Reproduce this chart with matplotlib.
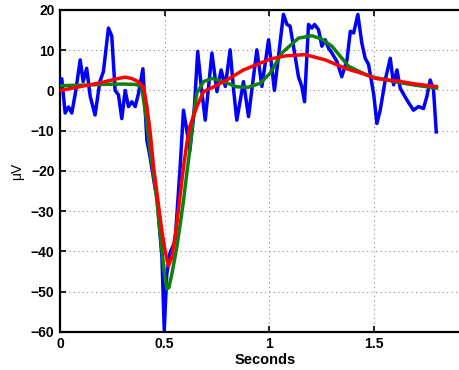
import matplotlib.pyplot as plt
import numpy as np

# raw signal (blue)
t_raw = [0.0, 0.008, 0.024, 0.04, 0.056, 0.075, 0.096, 0.11, 0.127, 0.144, 0.167, 0.19,
         0.207, 0.231, 0.247, 0.263, 0.279, 0.295, 0.311, 0.327, 0.343, 0.359, 0.375,
         0.396, 0.415, 0.43, 0.455, 0.463, 0.487, 0.498, 0.51, 0.526, 0.55, 0.574, 0.59,
         0.606, 0.62, 0.64, 0.658, 0.675, 0.694, 0.726, 0.75, 0.77, 0.79, 0.813, 0.83,
         0.845, 0.877, 0.901, 0.941, 0.965, 0.997, 1.025, 1.068, 1.085, 1.1, 1.124, 1.14,
         1.156, 1.169, 1.188, 1.204, 1.217, 1.236, 1.252, 1.268, 1.284, 1.3, 1.324, 1.347,
         1.372, 1.388, 1.404, 1.424, 1.443, 1.459, 1.475, 1.5, 1.515, 1.531, 1.555, 1.579,
         1.595, 1.611, 1.627, 1.659, 1.69, 1.714, 1.738, 1.754, 1.77, 1.786, 1.799]
v_raw = [2.5, 2.9, -5.6, -4.1, -5.6, 0.0, 7.6, 2.2, 5.5, -1.5, -6.1, 2.2,
         4.7, 15.5, 13.5, 0.0, -1.1, -7.0, 0.0, -4.0, -2.8, -4.0, -0.7,
         5.4, -12.4, -16.5, -24.5, -26.5, -41.5, -59.5, -45.7, -40.3, -37.4, -19.0, -4.9,
         -10.0, -15.0, -6.0, 9.7, 1.0, -7.4, 9.3, -0.3, 5.1, 1.0, 10.1, 0.0,
         -7.4, 2.2, -6.5, 10.1, 1.0, 12.6, 0.0, 18.9, 16.4, 16.0, 8.5, 3.4,
         1.0, -2.8, 16.4, 15.5, 16.4, 15.1, 11.0, 12.6, 10.5, 9.3, 7.2, 3.4,
         7.6, 14.7, 14.3, 18.9, 11.8, 8.0, 6.5, -1.0, -8.2, -4.9, 2.6, 8.0,
         1.4, 5.1, 0.5, -2.4, -4.9, -4.0, -4.5, -1.5, 2.6, 0.1, -10.3]

# smoothed fit (green)
t_fit1 = [0.0, 0.1, 0.2, 0.3, 0.36, 0.39, 0.399, 0.415, 0.43, 0.447, 0.463, 0.475, 0.487,
          0.5, 0.51, 0.52, 0.534, 0.558, 0.575, 0.59, 0.605, 0.62, 0.635, 0.654, 0.686,
          0.726, 0.782, 0.845, 0.9, 0.957, 0.98, 1.005, 1.06, 1.14, 1.204, 1.25, 1.3,
          1.38, 1.459, 1.507, 1.62, 1.7, 1.8]
v_fit1 = [1.2, 1.3, 1.5, 1.6, 1.5, 1.0, -2.4, -8.0, -14.9, -21.0, -27.4, -34.0, -39.9,
          -46.0, -49.3, -49.0, -45.7, -39.0, -33.0, -27.4, -21.0, -14.9, -7.0, -0.7, 2.2,
          3.0, 2.2, 0.9, 0.8, 1.8, 3.0, 4.3, 9.3, 13.0, 13.6, 12.8, 11.0,
          6.0, 4.0, 3.2, 2.0, 1.3, 0.6]

# smoother fit (red)
t_fit2 = [0.0, 0.1, 0.2, 0.28, 0.311, 0.34, 0.37, 0.399, 0.415, 0.43, 0.447, 0.463, 0.478,
          0.49, 0.502, 0.518, 0.534, 0.546, 0.558, 0.574, 0.59, 0.605, 0.62, 0.654, 0.686,
          0.734, 0.797, 0.877, 0.957, 1.005, 1.077, 1.172, 1.268, 1.364, 1.459, 1.507,
          1.62, 1.7, 1.8]
v_fit2 = [0.0, 1.0, 2.0, 3.0, 3.3, 3.0, 2.3, 0.9, -4.0, -10.0, -19.0, -25.5, -31.5,
          -36.0, -39.9, -43.6, -41.5, -37.5, -33.2, -26.0, -19.0, -13.5, -9.0, -4.0, -0.3,
          0.9, 2.6, 5.1, 6.8, 7.8, 8.6, 8.9, 7.6, 5.5, 4.0, 3.0,
          2.3, 1.6, 0.95]

xticks = [0, 0.5, 1, 1.5]
xticklabels = ["0", "0.5", "1", "1.5"]
yticks = [-60, -50, -40, -30, -20, -10, 0, 10, 20]

plt.rcParams['font.family'] = ['Liberation Sans', 'DejaVu Sans']

fig = plt.figure(figsize=(4.59, 3.70), dpi=100)
ax = fig.add_axes([0.131, 0.103, 0.911, 0.870])

ax.plot(t_raw, v_raw, color=(0, 0, 1), lw=2.5, solid_joinstyle='round', zorder=3)
ax.plot(t_fit1, v_fit1, color=(0.05, 0.5, 0.05), lw=2.5, solid_joinstyle='round', zorder=4)
ax.plot(t_fit2, v_fit2, color=(1, 0, 0), lw=2.5, solid_joinstyle='round', zorder=5)

ax.set_xlim(0, 2)
ax.set_ylim(-60, 20)
ax.set_xticks(xticks)
ax.set_xticklabels(xticklabels)
ax.set_yticks(yticks)
ax.grid(True, color='0.55', linestyle=(0, (1, 3)), lw=0.8)
ax.tick_params(direction='in', top=True, right=True, length=4, width=1.2,
               labelsize=10, pad=4)
for lab in ax.get_xticklabels() + ax.get_yticklabels():
    lab.set_fontweight('bold')
for sp in ax.spines.values():
    sp.set_linewidth(1.6)

ax.set_xlabel("Seconds", fontsize=10.5, fontweight='bold', labelpad=1)
ax.set_ylabel("\u03bcV", fontsize=10, labelpad=5)
ax.xaxis.set_label_coords(0.49, -0.065)

fig.savefig("out.png", dpi=100)
